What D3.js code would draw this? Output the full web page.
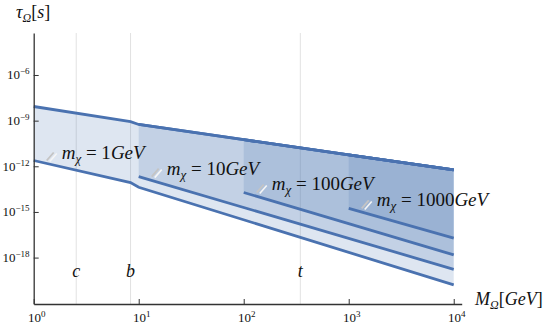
<!DOCTYPE html>
<html>
<head>
<meta charset="utf-8">
<script src="https://cdn.jsdelivr.net/npm/d3@7"></script>
<style>
  body { margin: 0; background: #fff; }
  svg text { font-family: "Liberation Serif", "Times New Roman", serif; }
</style>
</head>
<body>
<svg id="chart"></svg>
<script>
// values
const quarkNames = ["c", "b", "t"];
const quarkMass2 = [2.54, 8.36, 346];          // 2 m_q in GeV
const xTickExps = [0, 1, 2, 3, 4];
const yTickExps = [-6, -9, -12, -15, -18];

const mChi = [1, 10, 100, 1000];
const mChiLabels = ["1", "10", "100", "1000"];

const upperM = [1, 8.36, 10, 100, 1000, 10000];
const upperTau = [8.5e-9, 8.7e-10, 5.6e-10, 5.6e-11, 5.6e-12, 5.8e-13];

const lowerM1 = [1, 8.36, 10, 10000];
const lowerTau1 = [2.4e-12, 8.5e-14, 4.2e-14, 1.6e-20];
const lowerM2 = [10, 10000];
const lowerTau2 = [2.1e-13, 1.7e-19];
const lowerM3 = [100, 10000];
const lowerTau3 = [1.9e-14, 1.5e-18];
const lowerM4 = [1000, 10000];
const lowerTau4 = [1.7e-15, 1.9e-17];

const lowerM = [lowerM1, lowerM2, lowerM3, lowerM4];
const lowerTau = [lowerTau1, lowerTau2, lowerTau3, lowerTau4];

const W = 554, H = 326;
const svg = d3.select("#chart").attr("width", W).attr("height", H);
const blue = "#4a72b0";

const x = d3.scaleLog().domain([1, Math.pow(10, 4.076)]).range([33.7, 461.7]);
const y = d3.scaleLog().domain([Math.pow(10, -21.05), Math.pow(10, -3.24)]).range([304, 33]);

// threshold lines
svg.append("g").selectAll("line").data(quarkMass2).enter().append("line")
  .attr("x1", d => x(d)).attr("x2", d => x(d))
  .attr("y1", 33).attr("y2", 304)
  .attr("stroke", "#e2e2e2").attr("stroke-width", 1);

// bands
const line = d3.line().x(d => x(d[0])).y(d => y(d[1]));
const bands = mChi.map((m, i) => {
  const up = upperM.map((v, j) => [v, upperTau[j]]).filter(d => d[0] >= m);
  const lo = lowerM[i].map((v, j) => [v, lowerTau[i][j]]);
  return { up: up, lo: lo };
});

svg.append("g").selectAll("path").data(bands).enter().append("path")
  .attr("d", d => line(d.up.concat(d.lo.slice().reverse())) + "Z")
  .attr("fill", blue).attr("fill-opacity", 0.18).attr("stroke", "none");

const lines = svg.append("g").attr("fill", "none").attr("stroke", blue).attr("stroke-width", 2.8);
bands.forEach(b => {
  lines.append("path").attr("d", line(b.up));
  lines.append("path").attr("d", line(b.lo));
});

// axes
const xAxis = d3.axisBottom(x).tickValues(xTickExps.map(e => Math.pow(10, e)))
  .tickSizeInner(-5).tickSizeOuter(0).tickFormat("");
const yAxis = d3.axisLeft(y).tickValues(yTickExps.map(e => Math.pow(10, e)))
  .tickSizeInner(-5).tickSizeOuter(0).tickFormat("");

const gx = svg.append("g").attr("transform", "translate(0,304)").call(xAxis);
const gy = svg.append("g").attr("transform", "translate(33.7,0)").call(yAxis);
[gx, gy].forEach(g => {
  g.select(".domain").attr("stroke", "#333").attr("stroke-width", 1.3);
  g.selectAll(".tick line").attr("stroke", "#333").attr("stroke-width", 1);
});

function powLabel(sel, e) {
  sel.append("tspan").text("10");
  sel.append("tspan").attr("dy", -5).attr("font-size", 9).text(e < 0 ? "\u2212" + (-e) : e);
}

xTickExps.forEach(e => {
  const t = svg.append("text").attr("x", x(Math.pow(10, e)) + 3).attr("y", 322)
    .attr("text-anchor", "middle").attr("font-size", 13).attr("fill", "#111");
  powLabel(t, e);
});
yTickExps.forEach(e => {
  const t = svg.append("text").attr("x", 29.5).attr("y", y(Math.pow(10, e)) + 4.5)
    .attr("text-anchor", "end").attr("font-size", 13).attr("fill", "#111");
  powLabel(t, e);
});

// axis titles
const yt = svg.append("text").attr("x", 16).attr("y", 18).attr("font-size", 18).attr("fill", "#111");
yt.append("tspan").attr("font-style", "italic").text("τ");
yt.append("tspan").attr("font-style", "italic").attr("font-size", 12).attr("dy", 4).text("Ω");
yt.append("tspan").attr("dy", -4).text("[");
yt.append("tspan").attr("font-style", "italic").text("s");
yt.append("tspan").text("]");

const xt = svg.append("text").attr("x", 475).attr("y", 305).attr("font-size", 18).attr("fill", "#111");
xt.append("tspan").attr("font-style", "italic").text("M");
xt.append("tspan").attr("font-style", "italic").attr("font-size", 12).attr("dy", 4).text("Ω");
xt.append("tspan").attr("dy", -4).text("[");
xt.append("tspan").attr("font-style", "italic").text("GeV");
xt.append("tspan").text("]");

// quark labels
svg.append("g").selectAll("text").data(quarkNames).enter().append("text")
  .attr("x", (d, i) => x(quarkMass2[i])).attr("y", 277)
  .attr("text-anchor", "middle").attr("font-size", 18)
  .attr("font-style", "italic").attr("fill", "#111").text(d => d);

// band labels
mChi.forEach((m, i) => {
  const x0 = x(m), y0 = y(lowerTau[i][0]);
  const g = svg.append("g");
  g.append("line").attr("x1", x0 + 13).attr("y1", y0).attr("x2", x0 + 20).attr("y2", y0 - 8)
    .attr("stroke", "#c4c4c4").attr("stroke-width", 1.8);
  g.append("line").attr("x1", x0 + 16).attr("y1", y0 + 1).attr("x2", x0 + 23).attr("y2", y0 - 7)
    .attr("stroke", "#f6f6f6").attr("stroke-width", 1.6);
  const t = g.append("text").attr("x", x0 + 28).attr("y", y0 - 2)
    .attr("font-size", 19).attr("fill", "#111");
  t.append("tspan").attr("font-style", "italic").text("m");
  t.append("tspan").attr("font-style", "italic").attr("font-size", 13).attr("dy", 4).text("χ");
  t.append("tspan").attr("dy", -4).text(" = " + mChiLabels[i]);
  t.append("tspan").attr("font-style", "italic").text("GeV");
});
</script>
</body>
</html>
